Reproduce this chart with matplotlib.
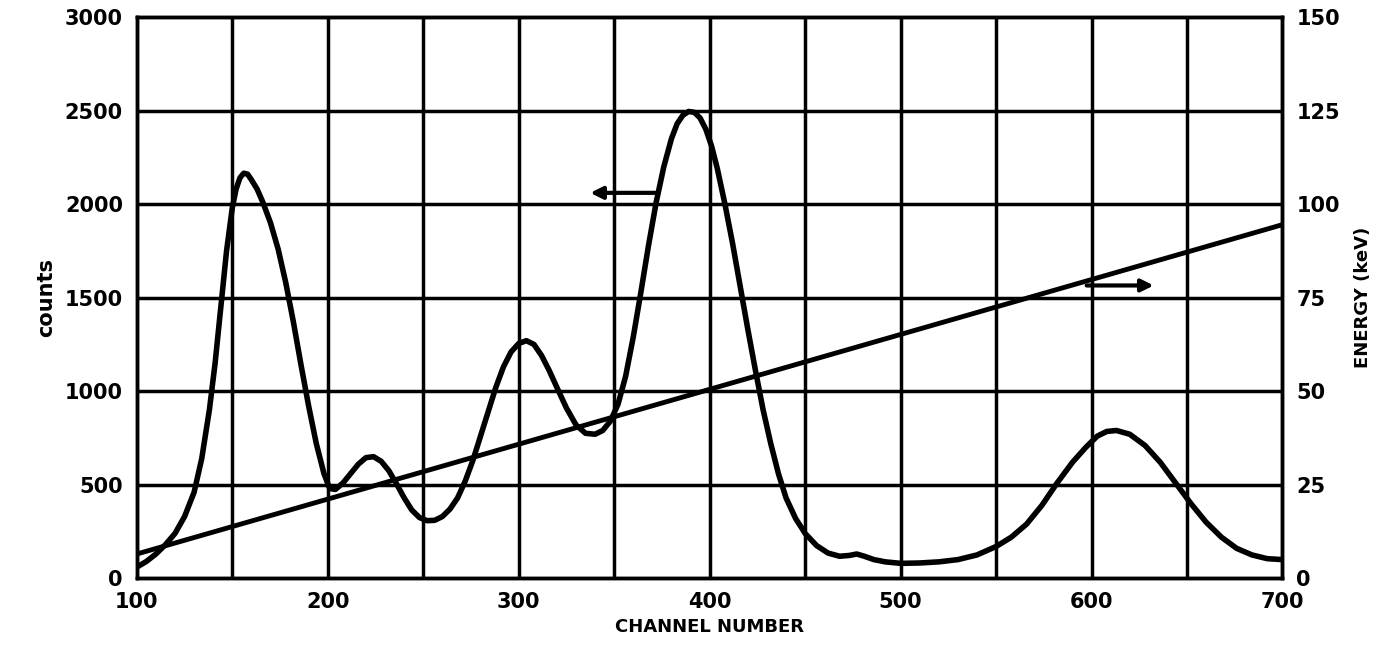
import matplotlib
matplotlib.use("Agg")
import matplotlib.pyplot as plt

# spectrum (channel -> counts)
channel = [100, 105, 110, 115, 120, 125, 130, 134, 138, 141, 144, 147, 150, 152, 154, 156,
           158, 160, 163, 166, 170, 174, 178, 182, 186, 190, 194, 198, 201, 204, 208, 212,
           216, 220, 224, 228, 232, 236, 240, 244, 248, 252, 256, 260, 264, 268, 272, 276,
           280, 284, 288, 292, 296, 300, 304, 308, 312, 316, 320, 325, 330, 335, 340, 344,
           348, 352, 356, 360, 364, 368, 372, 376, 380, 383, 386, 389, 392, 395, 398, 401,
           404, 408, 412, 416, 420, 424, 428, 432, 436, 440, 445, 450, 456, 462, 468, 473,
           477, 481, 486, 492, 500, 510, 520, 530, 540, 550, 558, 566, 574, 582, 590, 597,
           603, 608, 613, 620, 628, 636, 644, 652, 660, 668, 676, 684, 692, 700]
counts = [60, 90, 130, 180, 240, 330, 460, 640, 900, 1150, 1450, 1750, 1980, 2080, 2140, 2165,
          2160, 2130, 2080, 2010, 1900, 1760, 1580, 1370, 1140, 920, 720, 560, 480, 475, 510, 560,
          610, 645, 650, 625, 575, 505, 430, 365, 325, 308, 310, 330, 370, 430, 520, 630,
          760, 890, 1020, 1130, 1210, 1255, 1270, 1250, 1190, 1110, 1020, 910, 820, 775, 770, 790,
          840, 930, 1080, 1290, 1530, 1780, 2010, 2200, 2350, 2430, 2475, 2495, 2490, 2460, 2400, 2310,
          2190, 2000, 1790, 1560, 1330, 1110, 900, 720, 560, 430, 320, 240, 175, 135, 118, 122,
          130, 118, 100, 88, 80, 82, 88, 100, 125, 170, 220, 290, 390, 510, 620, 700,
          760, 785, 790, 770, 710, 620, 510, 400, 300, 220, 160, 125, 105, 100]

# energy calibration line (right axis, keV)
energy_ch = [100, 700]
energy_kev = [6.5, 94.5]

x_ticks = [100, 200, 300, 400, 500, 600, 700]
y_ticks = [0, 500, 1000, 1500, 2000, 2500, 3000]
e_ticks = [0, 25, 50, 75, 100, 125, 150]

fig = plt.figure(figsize=(13.82, 6.52), dpi=100)
ax = fig.add_axes([0.099, 0.113, 0.829, 0.861])
ax2 = ax.twinx()

# grid, drawn by hand as heavy lines
for gx in range(150, 700, 50):
    ax.axvline(gx, color="black", lw=2.5, zorder=1)
for gy in range(500, 3000, 500):
    ax.axhline(gy, color="black", lw=2.5, zorder=1)

ax.plot(channel, counts, color="black", lw=4, solid_joinstyle="round",
        solid_capstyle="round", zorder=3)
ax2.plot(energy_ch, energy_kev, color="black", lw=3.5, zorder=3)

ax.set_xlim(100, 700)
ax.set_ylim(0, 3000)
ax2.set_ylim(0, 150)

ax.set_xticks(x_ticks)
ax.set_yticks(y_ticks)
ax2.set_yticks(e_ticks)
tick_font = dict(fontsize=15, fontweight="bold")
ax.set_xticklabels([str(t) for t in x_ticks], **tick_font)
ax.set_yticklabels([str(t) for t in y_ticks], **tick_font)
ax2.set_yticklabels([str(t) for t in e_ticks], **tick_font)
ax.tick_params(length=0, pad=10)
ax2.tick_params(length=0, pad=10)

for a in (ax, ax2):
    for s in a.spines.values():
        s.set_linewidth(2.5)

ax.set_xlabel("CHANNEL NUMBER", fontsize=13, fontweight="bold", labelpad=4)
ax.set_ylabel("counts", fontsize=15, fontweight="bold", labelpad=6)
ax2.set_ylabel("ENERGY (keV)", fontsize=13, fontweight="bold", labelpad=10)

# arrows showing which axis belongs to which curve
ax.annotate("", xy=(336, 2060), xytext=(374, 2060),
            arrowprops=dict(arrowstyle="-|>", color="black", lw=3, mutation_scale=18))
ax.annotate("", xy=(634, 1565), xytext=(596, 1565),
            arrowprops=dict(arrowstyle="-|>", color="black", lw=3, mutation_scale=18))

fig.savefig("out.png", dpi=100)
